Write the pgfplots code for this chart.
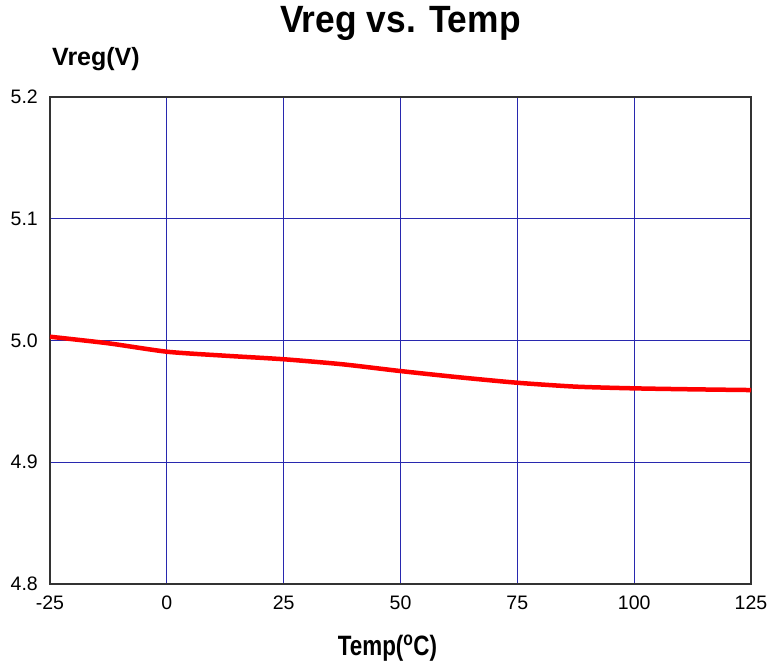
\documentclass[border=0pt]{standalone}
\usepackage{fontspec}
\setmainfont{Liberation Sans}
\newfontfamily\narrowfont{Liberation Sans}[FakeStretch=0.93]
\newfontfamily\narrowerfont{Liberation Sans}[FakeStretch=0.8]
\usepackage{pgfplots}
\pgfplotsset{compat=1.18}
\definecolor{gridblue}{RGB}{40,40,175}

\begin{document}
\begin{tikzpicture}
\begin{axis}[
    at={(0pt,0pt)}, anchor=south west,
    scale only axis,
    width=701pt, height=487pt,
    xmin=-25, xmax=125,
    ymin=4.8, ymax=5.2,
    xtick={-25,0,...,125},
    ytick={4.8,4.9,...,5.2},
    major tick length=0pt,
    grid=major,
    major grid style={color=gridblue, line width=0.9pt},
    axis line style={color=black!80, line width=1.4pt},
    /pgf/number format/assume math mode=true,
    yticklabel style={/pgf/number format/fixed, /pgf/number format/fixed zerofill, /pgf/number format/precision=1},
    ticklabel style={font=\fontsize{19.5}{22}\selectfont},
    xticklabel style={anchor=base, inner sep=0pt, yshift=-25pt},
    yticklabel style={anchor=east, inner sep=0pt, xshift=-12pt},
    title={Vreg vs. Temp},
    title style={font=\narrowfont\bfseries\fontsize{38}{42}\selectfont, at={(axis description cs:0.5,1)}, anchor=base, inner sep=0pt, yshift=58pt},
    ylabel={Vreg(V)},
    ylabel style={rotate=-90, font=\bfseries\fontsize{25}{28}\selectfont, at={(axis description cs:0,1)}, anchor=base west, inner sep=0pt, xshift=2pt, yshift=31pt},
    xlabel={Temp(\textsuperscript{o}C)},
    xlabel style={font=\narrowerfont\bfseries\fontsize{28}{30}\selectfont, at={(axis description cs:0.5,0)}, anchor=base, inner sep=0pt, xshift=-13pt, yshift=-71pt},
    clip=false,
]
\addplot[red, line width=4.5pt, smooth, tension=0.4, line join=round] coordinates {
    (-25,5.0031) (-12.5,4.9977) (0,4.9908) (12.5,4.9875) (25,4.9846)
    (37.5,4.9805) (50,4.9749) (62.5,4.9698) (75,4.9653) (87.5,4.9621)
    (100,4.9607) (112.5,4.9599) (125,4.9593)
};
\end{axis}
\pgfresetboundingbox
\path[use as bounding box] (-50pt,-81pt) rectangle (720pt,584pt);
\end{tikzpicture}
\end{document}
